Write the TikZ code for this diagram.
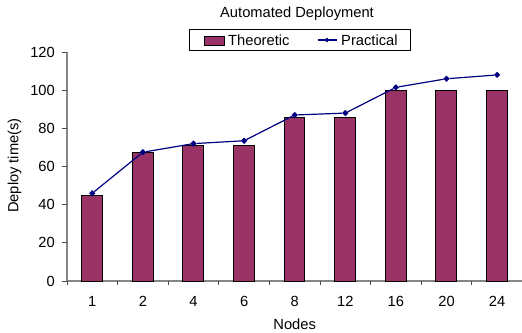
\documentclass[tikz,border=0pt]{standalone}
\usepackage{fontspec}
\setmainfont{Liberation Sans}
\definecolor{barred}{RGB}{153,51,102}
\definecolor{linenavy}{RGB}{0,0,128}
\definecolor{axisgray}{RGB}{134,134,134}
\usetikzlibrary{shapes.geometric}

\begin{document}
\begin{tikzpicture}[x=50.6pt, y=1.908pt,
  every node/.style={font=\fontsize{14.7}{16}\selectfont, inner sep=0pt},
  bar/.style={draw=black, fill=barred, line width=0.8pt},
  dot/.style={diamond, fill=linenavy, minimum size=6.5pt},
  tick/.style={draw=black!70, line width=0.8pt},
  ylab/.style={anchor=east},
  xlab/.style={anchor=center}]

\useasboundingbox (-67pt,-51pt) rectangle (455pt,281pt);

% axes
\draw[axisgray, line width=1.3pt] (0,120) -- (0,0) -- (9,0);
\draw[tick] (0,0) -- ([xshift=-5pt]0,0);
\draw[tick] (0,20) -- ([xshift=-5pt]0,20);
\draw[tick] (0,40) -- ([xshift=-5pt]0,40);
\draw[tick] (0,60) -- ([xshift=-5pt]0,60);
\draw[tick] (0,80) -- ([xshift=-5pt]0,80);
\draw[tick] (0,100) -- ([xshift=-5pt]0,100);
\draw[tick] (0,120) -- ([xshift=-5pt]0,120);
\draw[tick] (0,0) -- ([yshift=-4pt]0,0);
\draw[tick] (1,0) -- ([yshift=-4pt]1,0);
\draw[tick] (2,0) -- ([yshift=-4pt]2,0);
\draw[tick] (3,0) -- ([yshift=-4pt]3,0);
\draw[tick] (4,0) -- ([yshift=-4pt]4,0);
\draw[tick] (5,0) -- ([yshift=-4pt]5,0);
\draw[tick] (6,0) -- ([yshift=-4pt]6,0);
\draw[tick] (7,0) -- ([yshift=-4pt]7,0);
\draw[tick] (8,0) -- ([yshift=-4pt]8,0);
\draw[tick] (9,0) -- ([yshift=-4pt]9,0);

% tick labels
\node[ylab] (y0) at ([xshift=-12pt]0,0) {0};
\node[ylab] (y20) at ([xshift=-12pt]0,20) {20};
\node[ylab] (y40) at ([xshift=-12pt]0,40) {40};
\node[ylab] (y60) at ([xshift=-12pt]0,60) {60};
\node[ylab] (y80) at ([xshift=-12pt]0,80) {80};
\node[ylab] (y100) at ([xshift=-12pt]0,100) {100};
\node[ylab] (y120) at ([xshift=-12pt]0,120) {120};
\node[xlab] (n1) at ([yshift=-20.7pt]0.5,0) {1};
\node[xlab] (n2) at ([yshift=-20.7pt]1.5,0) {2};
\node[xlab] (n4) at ([yshift=-20.7pt]2.5,0) {4};
\node[xlab] (n6) at ([yshift=-20.7pt]3.5,0) {6};
\node[xlab] (n8) at ([yshift=-20.7pt]4.5,0) {8};
\node[xlab] (n12) at ([yshift=-20.7pt]5.5,0) {12};
\node[xlab] (n16) at ([yshift=-20.7pt]6.5,0) {16};
\node[xlab] (n20) at ([yshift=-20.7pt]7.5,0) {20};
\node[xlab] (n24) at ([yshift=-20.7pt]8.5,0) {24};

\node (xtitle) at ([yshift=-43pt]4.5,0) {Nodes};
\node[rotate=90, anchor=base] (ytitle) at ([xshift=-48.5pt]0,60.5) {Deploy time(s)};
\node[anchor=base] (title) at (230pt,263.7pt) {Automated Deployment};

% theoretic bars
\draw[bar] (0.29,0) rectangle (0.70,45);
\draw[bar] (1.29,0) rectangle (1.70,67.5);
\draw[bar] (2.29,0) rectangle (2.70,71);
\draw[bar] (3.29,0) rectangle (3.70,71);
\draw[bar] (4.29,0) rectangle (4.70,86);
\draw[bar] (5.29,0) rectangle (5.70,86);
\draw[bar] (6.29,0) rectangle (6.70,100);
\draw[bar] (7.29,0) rectangle (7.70,100);
\draw[bar] (8.29,0) rectangle (8.70,100);

% practical line
\node[dot] (p1) at (0.5,46) {};
\node[dot] (p2) at (1.5,67.5) {};
\node[dot] (p3) at (2.5,72) {};
\node[dot] (p4) at (3.5,73.5) {};
\node[dot] (p5) at (4.5,87) {};
\node[dot] (p6) at (5.5,88) {};
\node[dot] (p7) at (6.5,101.5) {};
\node[dot] (p8) at (7.5,106) {};
\node[dot] (p9) at (8.5,108) {};
\draw[linenavy, line width=1.2pt] (p1) -- (p2) -- (p3) -- (p4) -- (p5) -- (p6) -- (p7) -- (p8) -- (p9);

% legend
\node[draw=black, line width=0.8pt, minimum width=221pt, minimum height=20.7pt] (legend) at (233pt,241.3pt) {};
\draw[bar] (137.5pt,236pt) rectangle (157pt,245pt);
\node[anchor=base west] (theo) at (161pt,235.3pt) {Theoretic};
\coordinate (la) at (250.5pt,241pt);
\coordinate (lb) at (269.5pt,241pt);
\node[dot, minimum size=5pt] (lp) at (260pt,241pt) {};
\draw[linenavy, line width=1.2pt] (la) -- (lb);
\node[anchor=base west] (prac) at (274pt,235.3pt) {Practical};

\end{tikzpicture}
\end{document}
